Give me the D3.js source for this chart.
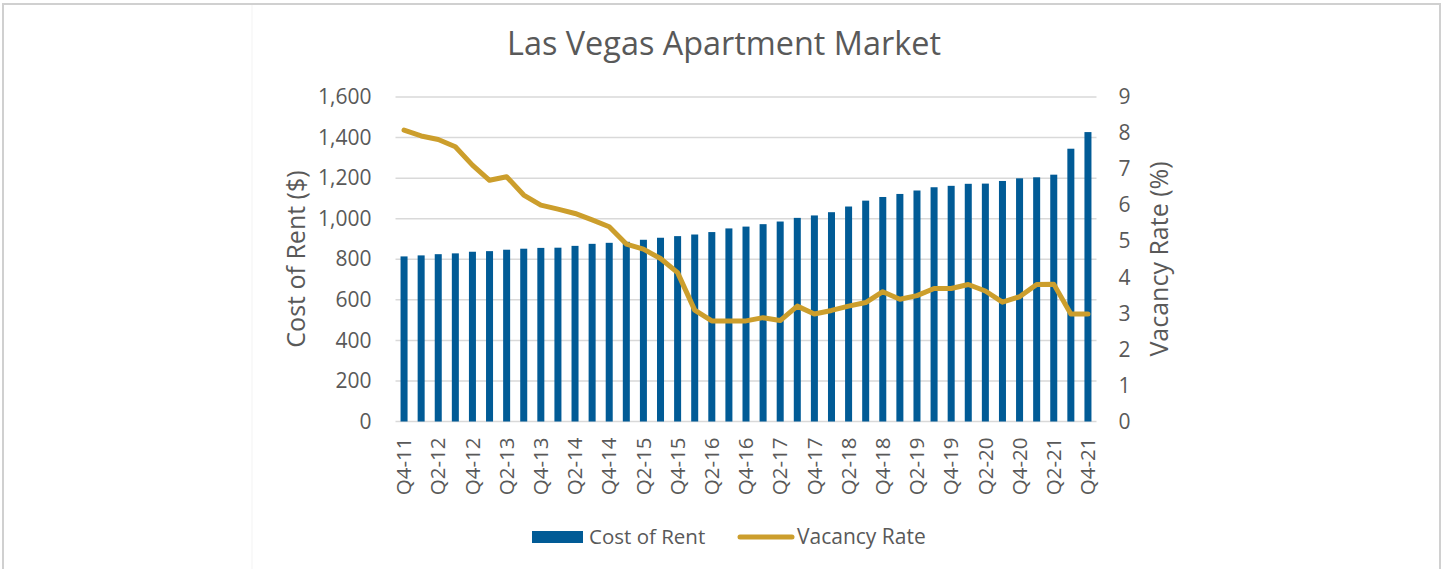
<!DOCTYPE html>
<html><head><meta charset="utf-8">
<script src="https://cdn.jsdelivr.net/npm/d3@7/dist/d3.min.js"></script>
<style>
html,body{margin:0;padding:0;background:#fff;}
svg{display:block;font-family:"Open Sans",sans-serif;}
</style></head>
<body>
<svg id="chart" width="1445" height="569"></svg>
<script>
const quarters = ["Q4-11","Q1-12","Q2-12","Q3-12","Q4-12","Q1-13","Q2-13","Q3-13","Q4-13","Q1-14","Q2-14","Q3-14","Q4-14","Q1-15","Q2-15","Q3-15","Q4-15","Q1-16","Q2-16","Q3-16","Q4-16","Q1-17","Q2-17","Q3-17","Q4-17","Q1-18","Q2-18","Q3-18","Q4-18","Q1-19","Q2-19","Q3-19","Q4-19","Q1-20","Q2-20","Q3-20","Q4-20","Q1-21","Q2-21","Q3-21","Q4-21"];
const costOfRent = [814,819,825,829,837,840,847,852,856,857,866,876,881,886,896,906,914,922,934,952,961,973,986,1004,1016,1032,1060,1089,1107,1122,1139,1155,1162,1172,1173,1186,1199,1204,1217,1345,1427];
const vacancyRate = [8.08,7.92,7.82,7.62,7.11,6.69,6.79,6.28,6.0,5.89,5.77,5.59,5.40,4.92,4.78,4.52,4.13,3.09,2.79,2.79,2.79,2.88,2.80,3.20,2.98,3.08,3.20,3.30,3.60,3.39,3.49,3.69,3.69,3.80,3.62,3.31,3.46,3.80,3.81,2.98,2.98];
const rentTicks = [0,200,400,600,800,1000,1200,1400,1600];
const vacancyTicks = [0,1,2,3,4,5,6,7,8,9];
const xLabels = quarters.filter((d,i)=>i%2===0);

(function(){
const TEXT = "#595959", BAR = "#015b96", LINE = "#cc9e2c", GRID = "#d9d9d9";
const svg = d3.select("#chart");
const pL = 395.5, pR = 1096.5, pT = 97, pB = 421.5;

// frame
svg.append("rect").attr("x",3).attr("y",4).attr("width",1437).attr("height",580)
  .attr("fill","none").attr("stroke","#d0d0d0").attr("stroke-width",2);
svg.append("line").attr("x1",252).attr("x2",252).attr("y1",5).attr("y2",569).attr("stroke","#f3f3f3");

const x = d3.scaleBand().domain(quarters).range([pL,pR]).paddingInner(0.59).paddingOuter(0.295);
const yL = d3.scaleLinear().domain([0,1600]).range([pB,pT]);
const yR = d3.scaleLinear().domain([0,9]).range([pB,pT]);

// gridlines
svg.append("g").selectAll("line").data(rentTicks).join("line")
  .attr("x1",pL).attr("x2",pR).attr("y1",d=>yL(d)).attr("y2",d=>yL(d))
  .attr("stroke",GRID).attr("stroke-width",1.5);

// title
svg.append("text").attr("x",724).attr("y",55).attr("text-anchor","middle")
  .attr("font-size",32.4).attr("fill",TEXT).text("Las Vegas Apartment Market");

// bars
svg.append("g").selectAll("rect").data(quarters).join("rect")
  .attr("x",d=>x(d)).attr("width",x.bandwidth())
  .attr("y",(d,i)=>yL(costOfRent[i])).attr("height",(d,i)=>yL(0)-yL(costOfRent[i]))
  .attr("fill",BAR);

// line
const line = d3.line().x((d,i)=>x(quarters[i])+x.bandwidth()/2).y(d=>yR(d));
svg.append("path").datum(vacancyRate).attr("d",line).attr("fill","none")
  .attr("stroke",LINE).attr("stroke-width",5).attr("stroke-linejoin","round").attr("stroke-linecap","round");

// left axis
const gl = svg.append("g").attr("transform",`translate(${pL},0)`)
  .call(d3.axisLeft(yL).tickValues(rentTicks).tickSize(0).tickPadding(24).tickFormat(d3.format(",")));
gl.select(".domain").remove();
gl.selectAll("text").attr("font-size",21).attr("fill",TEXT).attr("font-family","Open Sans");

// right axis
const gr = svg.append("g").attr("transform",`translate(${pR},0)`)
  .call(d3.axisRight(yR).tickValues(vacancyTicks).tickSize(0).tickPadding(22));
gr.select(".domain").remove();
gr.selectAll("text").attr("font-size",21).attr("fill",TEXT).attr("font-family","Open Sans");

// bottom axis
const gb = svg.append("g").attr("transform",`translate(0,${pB})`)
  .call(d3.axisBottom(x).tickValues(xLabels).tickSize(0));
gb.select(".domain").remove();
gb.selectAll("text").attr("font-size",20.5).attr("fill",TEXT).attr("font-family","Open Sans")
  .attr("text-anchor","end").attr("transform","rotate(-90)")
  .attr("x",-16).attr("y",0).attr("dy","0.35em");

// axis titles
svg.append("text").attr("transform",`translate(305,259) rotate(-90)`).attr("text-anchor","middle")
  .attr("font-size",25).attr("fill",TEXT).text("Cost of Rent ($)");
svg.append("text").attr("transform",`translate(1168,259) rotate(-90)`).attr("text-anchor","middle")
  .attr("font-size",25).attr("fill",TEXT).text("Vacancy Rate (%)");

// legend
const lg = svg.append("g");
lg.append("rect").attr("x",532).attr("y",531).attr("width",51).attr("height",12).attr("fill",BAR);
lg.append("text").attr("x",589).attr("y",544).attr("font-size",20.5).attr("fill",TEXT).text("Cost of Rent");
lg.append("line").attr("x1",740).attr("x2",792).attr("y1",537).attr("y2",537)
  .attr("stroke",LINE).attr("stroke-width",5).attr("stroke-linecap","round");
lg.append("text").attr("x",797).attr("y",544).attr("font-size",21).attr("fill",TEXT).text("Vacancy Rate");
})();
</script>
</body></html>
